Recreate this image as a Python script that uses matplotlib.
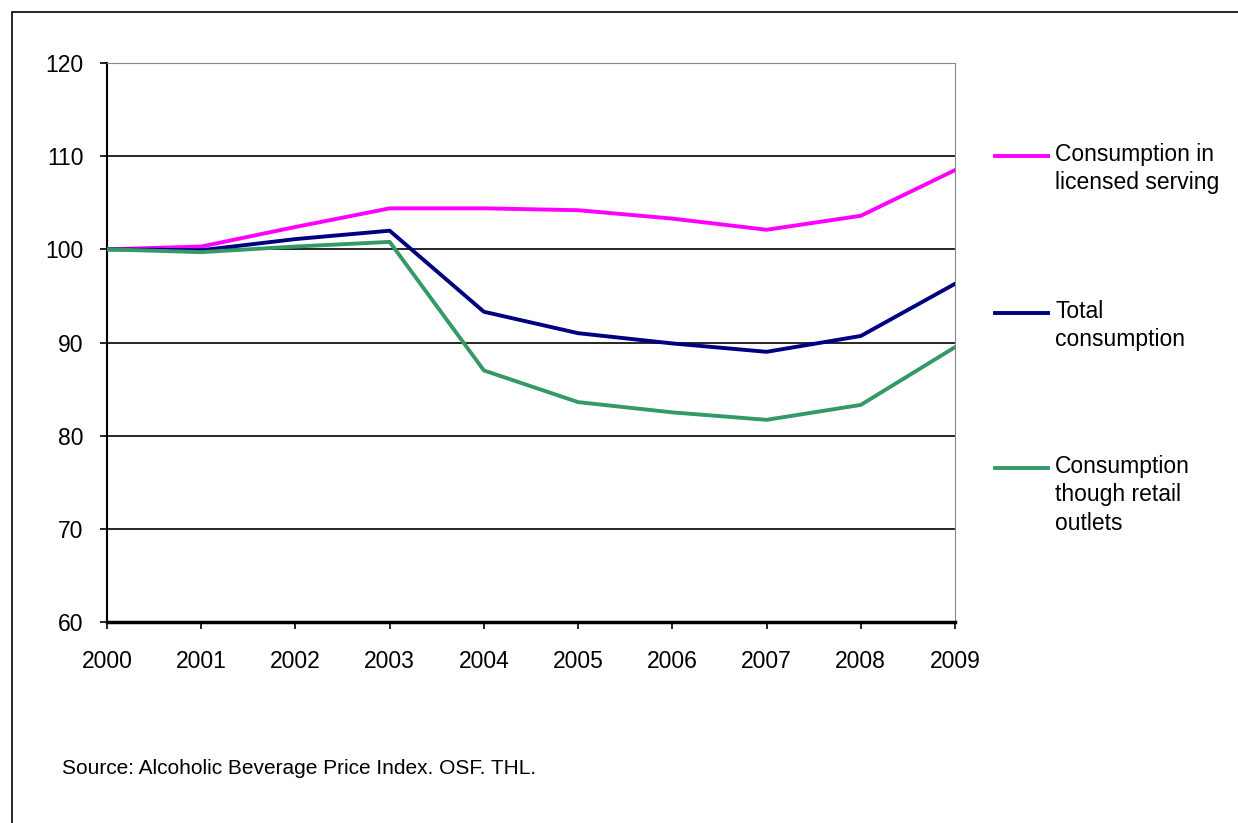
import matplotlib.pyplot as plt
from matplotlib.lines import Line2D
from matplotlib.patches import Rectangle

plt.rcParams['font.family'] = ['Liberation Sans', 'DejaVu Sans']

years = [2000, 2001, 2002, 2003, 2004, 2005, 2006, 2007, 2008, 2009]
licensed = [100.0, 100.3, 102.4, 104.4, 104.4, 104.2, 103.3, 102.1, 103.6, 108.5]
total = [100.0, 99.9, 101.1, 102.0, 93.3, 91.0, 89.9, 89.0, 90.7, 96.3]
retail = [100.0, 99.7, 100.3, 100.8, 87.0, 83.6, 82.5, 81.7, 83.3, 89.5]

labels = ['Consumption in\nlicensed serving', 'Total\nconsumption',
          'Consumption\nthough retail\noutlets']
colors = ['#FF00FF', '#000080', '#339966']

fig = plt.figure(figsize=(12.38, 8.23), dpi=100)
# frame around the whole chart
fig.add_artist(Rectangle((12 / 1238, -0.1), 1.2, 1 - 12 / 823 + 0.1,
                         transform=fig.transFigure, fill=False,
                         edgecolor='black', linewidth=1.2))

ax = fig.add_axes([107 / 1238, 1 - 622 / 823, 848 / 1238, 559 / 823])
x = list(range(len(years)))
for series, c in zip([licensed, total, retail], colors):
    ax.plot(x, series, color=c, linewidth=2.8, zorder=3)

ax.set_xlim(0, len(years) - 1)
ax.set_ylim(60, 120)
ax.set_yticks(range(60, 121, 10))
ax.set_xticks(x)
ax.set_xticklabels([str(y) for y in years])
ax.yaxis.grid(True, color='black', linewidth=1.2)
ax.set_axisbelow(True)
ax.tick_params(axis='both', labelsize=16.5, direction='out', length=5,
               width=1.2, color='black')
ax.tick_params(axis='x', pad=15)
ax.tick_params(axis='y', pad=12)
ax.spines['left'].set_linewidth(1.5)
ax.spines['bottom'].set_linewidth(2.5)
ax.spines['top'].set_color('#888888')
ax.spines['right'].set_color('#888888')

# legend drawn at the right of the plot
legend_y = [156, 313, 468]
for lab, c, ly in zip(labels, colors, legend_y):
    fy = 1 - ly / 823
    fig.add_artist(Line2D([995 / 1238, 1048 / 1238], [fy, fy],
                          transform=fig.transFigure, color=c, linewidth=2.8))
    fig.text(1055 / 1238, fy + 13 / 823, lab, fontsize=16.5, va='top',
             ha='left', linespacing=1.3)

fig.text(62 / 1238, 1 - 768 / 823, 'Source: Alcoholic Beverage Price Index. OSF. THL.',
         fontsize=15, va='center', ha='left')

fig.savefig('out.png', dpi=100)
